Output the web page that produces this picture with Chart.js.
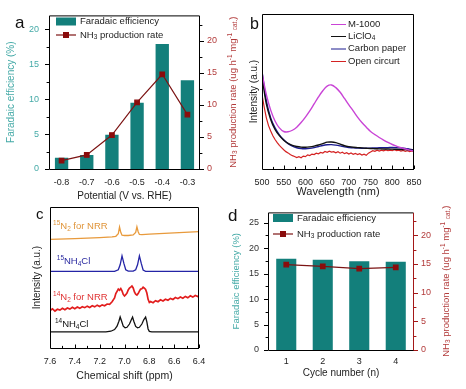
<!DOCTYPE html>
<html>
<head>
<meta charset="utf-8">
<script src="https://cdn.jsdelivr.net/npm/chart.js@4.4.1/dist/chart.umd.min.js"></script>
<style>
  body { margin: 0; background: #fff; }
  #fig { position: relative; width: 466px; height: 389px; overflow: hidden; }
  #fig canvas { position: absolute; }
</style>
</head>
<body>
<div id="fig">
  <canvas id="chartA" width="240" height="205" style="left:0;top:0;width:240px;height:205px"></canvas>
  <canvas id="chartB" width="226" height="205" style="left:240px;top:0;width:226px;height:205px"></canvas>
  <canvas id="chartC" width="228" height="189" style="left:0;top:200px;width:228px;height:189px"></canvas>
  <canvas id="chartD" width="238" height="189" style="left:228px;top:200px;width:238px;height:189px"></canvas>
</div>
<script>
// panel a - potential dependence
const potentials = ['-0.8', '-0.7', '-0.6', '-0.5', '-0.4', '-0.3'];
const feA = [1.6, 2.0, 4.9, 9.5, 17.9, 12.7];
const rateA = [1.3, 2.2, 5.3, 10.4, 14.8, 8.5];

// panel b - UV-vis spectra
const wl10 = [500, 510, 520, 530, 540, 550, 560, 570, 580, 590, 600, 610, 620, 630, 640, 650, 660, 670,
  680, 690, 700, 710, 720, 730, 740, 750, 760, 770, 780, 790, 800, 810, 820, 830, 840, 850];
const m1000 = [62, 48, 38, 31, 26.5, 24.2, 24, 25, 27, 30, 33.5, 37.5, 42, 46.5, 50.5, 53.5, 54.2, 52.5,
  49.5, 45.5, 41.4, 37.5, 33.5, 30, 27, 24.2, 22.2, 20.3, 18.6, 17.1, 15.8, 14.7, 13.7, 12.9, 12.2, 11.6];
const liclo4 = [60, 42, 32, 25.5, 21.5, 18.6, 16.5, 15.2, 14.5, 14.1, 14.0, 14.3, 14.8, 15.5, 16.4, 17.3, 17.4, 17.0,
  16.0, 15.0, 14.4, 14.0, 13.8, 13.6, 13.4, 13.2, 13.1, 13.0, 12.9, 12.9, 12.8, 12.7, 12.6, 12.5, 12.3, 12.1];
const carbonPaper = [63, 44, 33, 26.5, 22, 18.8, 16.4, 14.8, 13.7, 13.2, 13.1, 13.3, 13.8, 14.5, 15.2, 15.6, 15.7, 15.4,
  14.9, 14.3, 13.9, 13.6, 13.5, 13.4, 13.4, 13.5, 13.6, 13.7, 13.8, 13.8, 13.9, 13.8, 13.6, 13.3, 12.8, 12.4];
const wl5 = [500, 505, 510, 515, 520, 525, 530, 535, 540, 545, 550, 555, 560, 565, 570, 575, 580, 585, 590, 595,
  600, 605, 610, 615, 620, 625, 630, 635, 640, 645, 650, 655, 660, 665, 670, 675, 680, 685, 690, 695,
  700, 705, 710, 715, 720, 725, 730, 735, 740, 745, 750, 755, 760, 765, 770, 775, 780, 785, 790, 795,
  800, 805, 810, 815, 820, 825, 830, 835, 840, 845, 850];
const openCircuit = [48, 40, 33, 28, 24.5, 21.5, 19, 17, 15.2, 13.8, 12.4, 11.2, 10.4, 9.3, 8.6, 8.1, 7.4, 7.9, 7.2, 8.3,
  8.0, 9.1, 8.7, 9.6, 9.3, 10.2, 9.8, 10.7, 10.3, 11.3, 10.8, 11.5, 10.9, 11.2, 10.4, 11.1, 10.2, 10.8, 9.9, 10.5,
  9.6, 10.3, 9.5, 10.1, 9.3, 9.9, 9.0, 9.6, 8.8, 10.2, 11.0, 11.8, 11.4, 12.1, 11.6, 12.2, 11.7, 12.3, 11.8, 12.2,
  11.9, 12.4, 11.8, 12.1, 11.5, 12.0, 11.4, 11.8, 11.2, 11.6, 11.1];

// panel c - 1H NMR
const ppmN15 = [7.60, 7.40, 7.20, 7.10, 7.07, 7.05, 7.04, 7.03, 7.02, 7.00, 6.97, 6.93, 6.91, 6.90, 6.89, 6.88, 6.86, 6.80, 6.60, 6.40];
const n15nrr = [77.0, 77.6, 78.3, 78.8, 79.2, 81, 85.8, 82, 80, 79.8, 79.8, 80.2, 82, 86.0, 82.5, 80.5, 80.4, 80.7, 81.6, 82.6];
const ppmNH4N15 = [7.60, 7.08, 7.05, 7.035, 7.02, 7.005, 6.99, 6.97, 6.93, 6.91, 6.895, 6.88, 6.865, 6.85, 6.83, 6.40];
const nh4cl15 = [54.4, 54.4, 55.5, 59, 65.3, 60, 55.5, 54.5, 54.5, 55.5, 59, 65.3, 60, 55.3, 54.4, 54.4];
const ppmN14 = [7.60, 7.58, 7.56, 7.54, 7.52, 7.50, 7.48, 7.46, 7.44, 7.42, 7.40, 7.38, 7.36, 7.34, 7.32, 7.30,
  7.28, 7.26, 7.24, 7.22, 7.20, 7.18, 7.16, 7.14, 7.12, 7.10, 7.08, 7.07, 7.06, 7.05, 7.04, 7.03, 7.02, 7.01,
  7.00, 6.99, 6.98, 6.97, 6.96, 6.95, 6.94, 6.93, 6.92, 6.91, 6.90, 6.89, 6.88, 6.87, 6.86, 6.85, 6.84, 6.83,
  6.82, 6.81, 6.80, 6.79, 6.77, 6.75, 6.73, 6.71, 6.69, 6.67, 6.65, 6.63, 6.61, 6.59, 6.57, 6.55, 6.53, 6.51,
  6.49, 6.47, 6.45, 6.43, 6.41, 6.40];
const n14nrr = [26.5, 27.8, 26.2, 27.5, 26.9, 28.2, 27.1, 28.4, 27.6, 28.9, 27.8, 29.0, 28.1, 29.3, 28.6, 29.7,
  28.8, 30.0, 29.2, 30.4, 29.5, 30.6, 30.0, 31.2, 31.0, 32.8, 35.5, 38.6, 40.2, 41.8, 41.0, 42.2, 40.5, 38.0,
  36.9, 37.8, 38.9, 41.2, 42.5, 43.2, 44.0, 42.6, 39.8, 38.2, 37.5, 38.6, 40.3, 41.8, 42.0, 43.1, 42.4, 41.5,
  39.0, 34.5, 32.3, 33.0, 32.1, 33.6, 32.8, 34.2, 33.4, 34.6, 33.9, 35.2, 34.4, 35.8, 35.0, 36.2, 35.3, 36.6,
  35.6, 37.0, 36.1, 37.2, 36.5, 37.0];
const ppmNH4N14 = [7.60, 7.15, 7.11, 7.08, 7.06, 7.045, 7.035, 7.025, 7.01, 6.995, 6.98, 6.96, 6.945, 6.935, 6.925,
  6.91, 6.895, 6.88, 6.86, 6.845, 6.83, 6.82, 6.81, 6.80, 6.78, 6.40];
const nh4cl14 = [11.5, 11.5, 11.9, 13.1, 15.5, 19, 22, 19.5, 15.5, 14.3, 14.7, 17, 20, 21.9, 19, 15.3, 14.3, 14.7,
  17, 20, 22, 18.5, 13.5, 11.8, 11.5, 11.5];

// panel d - cycling
const cycles = ['1', '2', '3', '4'];
const feD = [17.9, 17.7, 17.4, 17.3];
const rateD = [14.9, 14.6, 14.2, 14.4];
const feTicksD = [0, 5, 10, 15, 20, 25];

const FONT = '"Liberation Sans", Arial, Helvetica, sans-serif';
const teal = '#137f7b';
const tealText = '#45aaa7';
const lineRed = '#7c1414';
const markRed = '#8a0c0c';
const redText = '#b23a3a';

Chart.defaults.font.family = FONT;
Chart.defaults.font.size = 9;
Chart.defaults.color = '#222';

const pts = (xs, ys) => xs.map((x, i) => ({ x: x, y: ys[i] }));
const only5 = s => { s.ticks = s.ticks.filter(t => Math.abs(t.value % 5) < 1e-6); };

function richWidth(ctx, segs, size) {
  let w = 0;
  segs.forEach(([t, m]) => {
    ctx.font = (m ? size * 0.68 : size) + 'px ' + FONT;
    w += ctx.measureText(t).width;
  });
  return w;
}

// draws text with sub (-1) / superscript (1) parts
function drawRich(ctx, segs, x, y, size, color, align, rot) {
  ctx.save();
  ctx.translate(x, y);
  if (rot) ctx.rotate(rot);
  ctx.fillStyle = color;
  ctx.textBaseline = 'middle';
  ctx.textAlign = 'left';
  let cx = 0;
  if (align === 'center') cx = -richWidth(ctx, segs, size) / 2;
  if (align === 'right') cx = -richWidth(ctx, segs, size);
  segs.forEach(([t, m]) => {
    const s = m ? size * 0.68 : size;
    ctx.font = s + 'px ' + FONT;
    const dy = m === 1 ? -size * 0.32 : (m === -1 ? size * 0.28 : 0);
    ctx.fillText(t, cx, dy);
    cx += ctx.measureText(t).width;
  });
  ctx.restore();
}

function drawTicks(ctx, s, a, t) {
  ctx.strokeStyle = t.color || '#000';
  ctx.lineWidth = 1;
  const k0 = Math.ceil(s.min / t.minor - 1e-6);
  const k1 = Math.floor(s.max / t.minor + 1e-6);
  for (let k = k0; k <= k1; k++) {
    const v = k * t.minor;
    const major = Math.abs(v / t.major - Math.round(v / t.major)) < 1e-6;
    const len = major ? t.len : t.len * 0.6;
    const p = Math.round(s.getPixelForValue(v)) + 0.5;
    ctx.beginPath();
    if (s.isHorizontal()) {
      const d = t.inward ? -len : len;
      ctx.moveTo(p, a.bottom);
      ctx.lineTo(p, a.bottom + d);
    } else {
      const left = s.position === 'left';
      const x0 = left ? a.left : a.right;
      const out = left ? -1 : 1;
      const d = t.inward ? -out * len : out * len;
      ctx.moveTo(x0, p);
      ctx.lineTo(x0 + d, p);
    }
    ctx.stroke();
  }
}

function edge(ctx, x1, y1, x2, y2, color) {
  ctx.strokeStyle = color;
  ctx.lineWidth = 1;
  ctx.beginPath();
  ctx.moveTo(x1, y1);
  ctx.lineTo(x2, y2);
  ctx.stroke();
}

function decor(cfg) {
  return {
    id: 'decor',
    afterDraw(chart) {
      const ctx = chart.ctx, a = chart.chartArea;
      ctx.save();
      (cfg.ticks || []).forEach(t => drawTicks(ctx, chart.scales[t.id], a, t));
      const f = Object.assign({ left: '#000', right: '#000', top: '#000', bottom: '#000' }, cfg.frame || {});
      const l = a.left + 0.5, r = a.right - 0.5, tp = a.top + 0.5, b = a.bottom + 0.5;
      edge(ctx, l, tp, r, tp, f.top);
      edge(ctx, l, b, r + 0.5, b, f.bottom);
      edge(ctx, l, tp, l, b, f.left);
      edge(ctx, r, tp, r, b, f.right);
      ctx.restore();
      if (cfg.draw) cfg.draw(ctx, chart);
    }
  };
}

function panelLetter(ctx, ch, x, y, size) {
  ctx.save();
  ctx.font = size + 'px ' + FONT;
  ctx.fillStyle = '#111';
  ctx.textBaseline = 'alphabetic';
  ctx.fillText(ch, x, y);
  ctx.restore();
}

const rateTitle = [['NH', 0], ['3', -1], [' production rate (ug h', 0], ['-1', 1], [' mg', 0], ['-1', 1], [' ', 0], ['cat.', -1], [')', 0]];
const rateLegend = [['NH', 0], ['3', -1], [' production rate', 0]];

function feRateLegend(ctx, x, y1, y2) {
  ctx.save();
  ctx.fillStyle = teal;
  ctx.fillRect(x, y1 - 4, 20, 8);
  ctx.strokeStyle = lineRed;
  ctx.lineWidth = 1.2;
  ctx.beginPath();
  ctx.moveTo(x, y2);
  ctx.lineTo(x + 20, y2);
  ctx.stroke();
  ctx.fillStyle = markRed;
  ctx.fillRect(x + 7, y2 - 3, 6, 6);
  ctx.restore();
  drawRich(ctx, [['Faradaic efficiency', 0]], x + 24, y1, 9.5, '#222', 'left');
  drawRich(ctx, rateLegend, x + 24, y2, 9.5, '#222', 'left');
}

const base = {
  responsive: false,
  animation: false,
  devicePixelRatio: 1,
  plugins: { legend: { display: false }, tooltip: { enabled: false } }
};
const noGrid = { display: false, drawTicks: false };

// ---- panel a ----
new Chart(document.getElementById('chartA'), {
  type: 'bar',
  data: {
    labels: potentials,
    datasets: [
      { type: 'line', data: rateA, yAxisID: 'y1', borderColor: lineRed, borderWidth: 1.2, pointStyle: 'rect',
        pointRadius: 3.2, pointBackgroundColor: markRed, pointBorderColor: markRed, order: 1 },
      { type: 'bar', data: feA, yAxisID: 'y', backgroundColor: teal, barPercentage: 0.53, categoryPercentage: 1, order: 2 }
    ]
  },
  options: Object.assign({}, base, {
    layout: { padding: { top: 14, left: 0, right: 0, bottom: 0 } },
    scales: {
      x: {
        grid: noGrid, border: { display: false },
        ticks: { padding: 8, font: { size: 9 } },
        title: { display: true, text: 'Potential (V vs. RHE)', font: { size: 10 }, padding: { top: 0, bottom: 3 } },
        afterFit: s => { s.height = 36; }
      },
      y: {
        position: 'left', min: 0, max: 22, grid: noGrid, border: { display: false },
        ticks: { stepSize: 5, padding: 10, color: tealText, font: { size: 9 } },
        afterBuildTicks: only5,
        title: { display: true, text: 'Faradaic efficiency (%)', color: tealText, font: { size: 10 }, padding: { top: 5, bottom: 0 } },
        afterFit: s => { s.width = 49; }
      },
      y1: {
        position: 'right', min: 0, max: 24, grid: noGrid, border: { display: false },
        ticks: { stepSize: 5, padding: 7, color: redText, font: { size: 9 } },
        afterBuildTicks: only5,
        afterFit: s => { s.width = 40; }
      }
    }
  }),
  plugins: [decor({
    ticks: [
      { id: 'y', major: 5, minor: 2.5, len: 4 },
      { id: 'y1', major: 5, minor: 2.5, len: 4 }
    ],
    draw(ctx, chart) {
      const a = chart.chartArea;
      panelLetter(ctx, 'a', 15, 28, 17);
      feRateLegend(ctx, 56, 21.5, 35);
      drawRich(ctx, rateTitle, 233, (a.top + a.bottom) / 2, 9.5, redText, 'center', -Math.PI / 2);
    }
  })]
});

// ---- panel b ----
new Chart(document.getElementById('chartB'), {
  type: 'line',
  data: {
    datasets: [
      { data: pts(wl10, m1000), borderColor: '#c944d6', borderWidth: 1.4, pointRadius: 0, tension: 0.35 },
      { data: pts(wl10, liclo4), borderColor: '#111111', borderWidth: 1.4, pointRadius: 0, tension: 0.35 },
      { data: pts(wl10, carbonPaper), borderColor: '#1b1b8f', borderWidth: 1.4, pointRadius: 0, tension: 0.35 },
      { data: pts(wl5, openCircuit), borderColor: '#d42222', borderWidth: 1.2, pointRadius: 0, tension: 0 }
    ]
  },
  options: Object.assign({}, base, {
    layout: { padding: { top: 14, left: 0, right: 52, bottom: 0 } },
    scales: {
      x: {
        type: 'linear', min: 500, max: 850, grid: noGrid, border: { display: false },
        ticks: { stepSize: 50, padding: 8, font: { size: 9 } },
        title: { display: true, text: 'Wavelength (nm)', font: { size: 11 }, padding: { top: 0, bottom: 6 } },
        afterFit: s => { s.height = 36; }
      },
      y: {
        min: 0, max: 100, grid: noGrid, border: { display: false },
        ticks: { display: false },
        title: { display: true, text: 'Intensity (a.u.)', font: { size: 10 }, padding: { top: 8, bottom: 0 } },
        afterFit: s => { s.width = 22; }
      }
    }
  }),
  plugins: [decor({
    ticks: [{ id: 'x', major: 50, minor: 25, len: 3.5, inward: true }],
    draw(ctx) {
      panelLetter(ctx, 'b', 10, 29, 16);
      const rows = [
        [[['M-1000', 0]], '#c944d6', 24],
        [[['LiClO', 0], ['4', -1]], '#111111', 36],
        [[['Carbon paper', 0]], '#1b1b8f', 48.5],
        [[['Open circurt', 0]], '#d42222', 61]
      ];
      rows.forEach(([segs, col, y]) => {
        edge(ctx, 91, y + 0.5, 106, y + 0.5, col);
        drawRich(ctx, segs, 108, y, 9.5, '#222', 'left');
      });
    }
  })]
});

// ---- panel c ----
new Chart(document.getElementById('chartC'), {
  type: 'line',
  data: {
    datasets: [
      { data: pts(ppmN15, n15nrr), borderColor: '#e89a3c', borderWidth: 1.3, pointRadius: 0, tension: 0 },
      { data: pts(ppmNH4N15, nh4cl15), borderColor: '#2424a6', borderWidth: 1.3, pointRadius: 0, tension: 0 },
      { data: pts(ppmN14, n14nrr), borderColor: '#e21d1d', borderWidth: 1.7, pointRadius: 0, tension: 0 },
      { data: pts(ppmNH4N14, nh4cl14), borderColor: '#111111', borderWidth: 1.3, pointRadius: 0, tension: 0 }
    ]
  },
  options: Object.assign({}, base, {
    layout: { padding: { top: 7, left: 0, right: 29, bottom: 0 } },
    scales: {
      x: {
        type: 'linear', min: 6.4, max: 7.6, reverse: true, grid: noGrid, border: { display: false },
        ticks: { stepSize: 0.2, padding: 8, font: { size: 9 }, callback: v => Number(v).toFixed(1) },
        title: { display: true, text: 'Chemical shift (ppm)', font: { size: 10.5 }, padding: { top: 0, bottom: 7 } },
        afterFit: s => { s.height = 41; }
      },
      y: {
        min: 0, max: 100, grid: noGrid, border: { display: false },
        ticks: { display: false },
        title: { display: true, text: 'Intensity (a.u.)', font: { size: 10 }, padding: { top: 31, bottom: 0 } },
        afterFit: s => { s.width = 50; }
      }
    }
  }),
  plugins: [decor({
    ticks: [{ id: 'x', major: 0.2, minor: 0.1, len: 3.5, inward: true }],
    draw(ctx, chart) {
      panelLetter(ctx, 'c', 36, 19, 15);
      const sx = chart.scales.x, sy = chart.scales.y;
      const labels = [
        [[['15', 1], ['N', 0], ['2', -1], [' for NRR', 0]], '#e0953a', 7.575, 86],
        [[['15', 1], ['NH', 0], ['4', -1], ['Cl', 0]], '#2a2aa0', 7.545, 61.3],
        [[['14', 1], ['N', 0], ['2', -1], [' for NRR', 0]], '#e03434', 7.575, 36],
        [[['14', 1], ['NH', 0], ['4', -1], ['Cl', 0]], '#111111', 7.56, 16.5]
      ];
      labels.forEach(([segs, col, px, py]) => {
        drawRich(ctx, segs, sx.getPixelForValue(px), sy.getPixelForValue(py), 9.5, col, 'left');
      });
    }
  })]
});

// ---- panel d ----
new Chart(document.getElementById('chartD'), {
  type: 'bar',
  data: {
    labels: cycles,
    datasets: [
      { type: 'line', data: rateD, yAxisID: 'y1', borderColor: lineRed, borderWidth: 1.2, pointStyle: 'rect',
        pointRadius: 3.2, pointBackgroundColor: markRed, pointBorderColor: markRed, order: 1 },
      { type: 'bar', data: feD, yAxisID: 'y', backgroundColor: teal, barPercentage: 0.55, categoryPercentage: 1, order: 2 }
    ]
  },
  options: Object.assign({}, base, {
    layout: { padding: { top: 8, left: 0, right: 0, bottom: 0 } },
    scales: {
      x: {
        grid: noGrid, border: { display: false },
        ticks: { padding: 6, font: { size: 9 } },
        title: { display: true, text: 'Cycle number (n)', font: { size: 10 }, padding: { top: 0, bottom: 10 } },
        afterFit: s => { s.height = 39; }
      },
      y: {
        position: 'left', min: 0, max: 27, grid: noGrid, border: { display: false },
        ticks: { display: false, stepSize: 5 },
        title: { display: true, text: 'Faradaic efficiency (%)', color: tealText, font: { size: 9.5 }, padding: { top: 3, bottom: 0 } },
        afterFit: s => { s.width = 40; }
      },
      y1: {
        position: 'right', min: 0, max: 24, grid: noGrid, border: { display: false },
        ticks: { stepSize: 5, padding: 7, color: redText, font: { size: 9 } },
        afterBuildTicks: only5,
        afterFit: s => { s.width = 52; }
      }
    }
  }),
  plugins: [decor({
    frame: { right: '#a31818' },
    ticks: [
      { id: 'y', major: 5, minor: 2.5, len: 4 },
      { id: 'y1', major: 5, minor: 2.5, len: 4, color: '#a31818' }
    ],
    draw(ctx, chart) {
      const a = chart.chartArea;
      const sy = chart.scales.y;
      // left tick labels of panel d, placed through the y scale
      feTicksD.forEach(v => {
        drawRich(ctx, [[String(v), 0]], a.left - 9, sy.getPixelForValue(v), 9, '#333', 'right');
      });
      panelLetter(ctx, 'd', 0, 21, 17);
      feRateLegend(ctx, 45, 18, 34);
      drawRich(ctx, rateTitle, 218, (a.top + a.bottom) / 2, 9.5, redText, 'center', -Math.PI / 2);
    }
  })]
});
</script>
</body>
</html>
